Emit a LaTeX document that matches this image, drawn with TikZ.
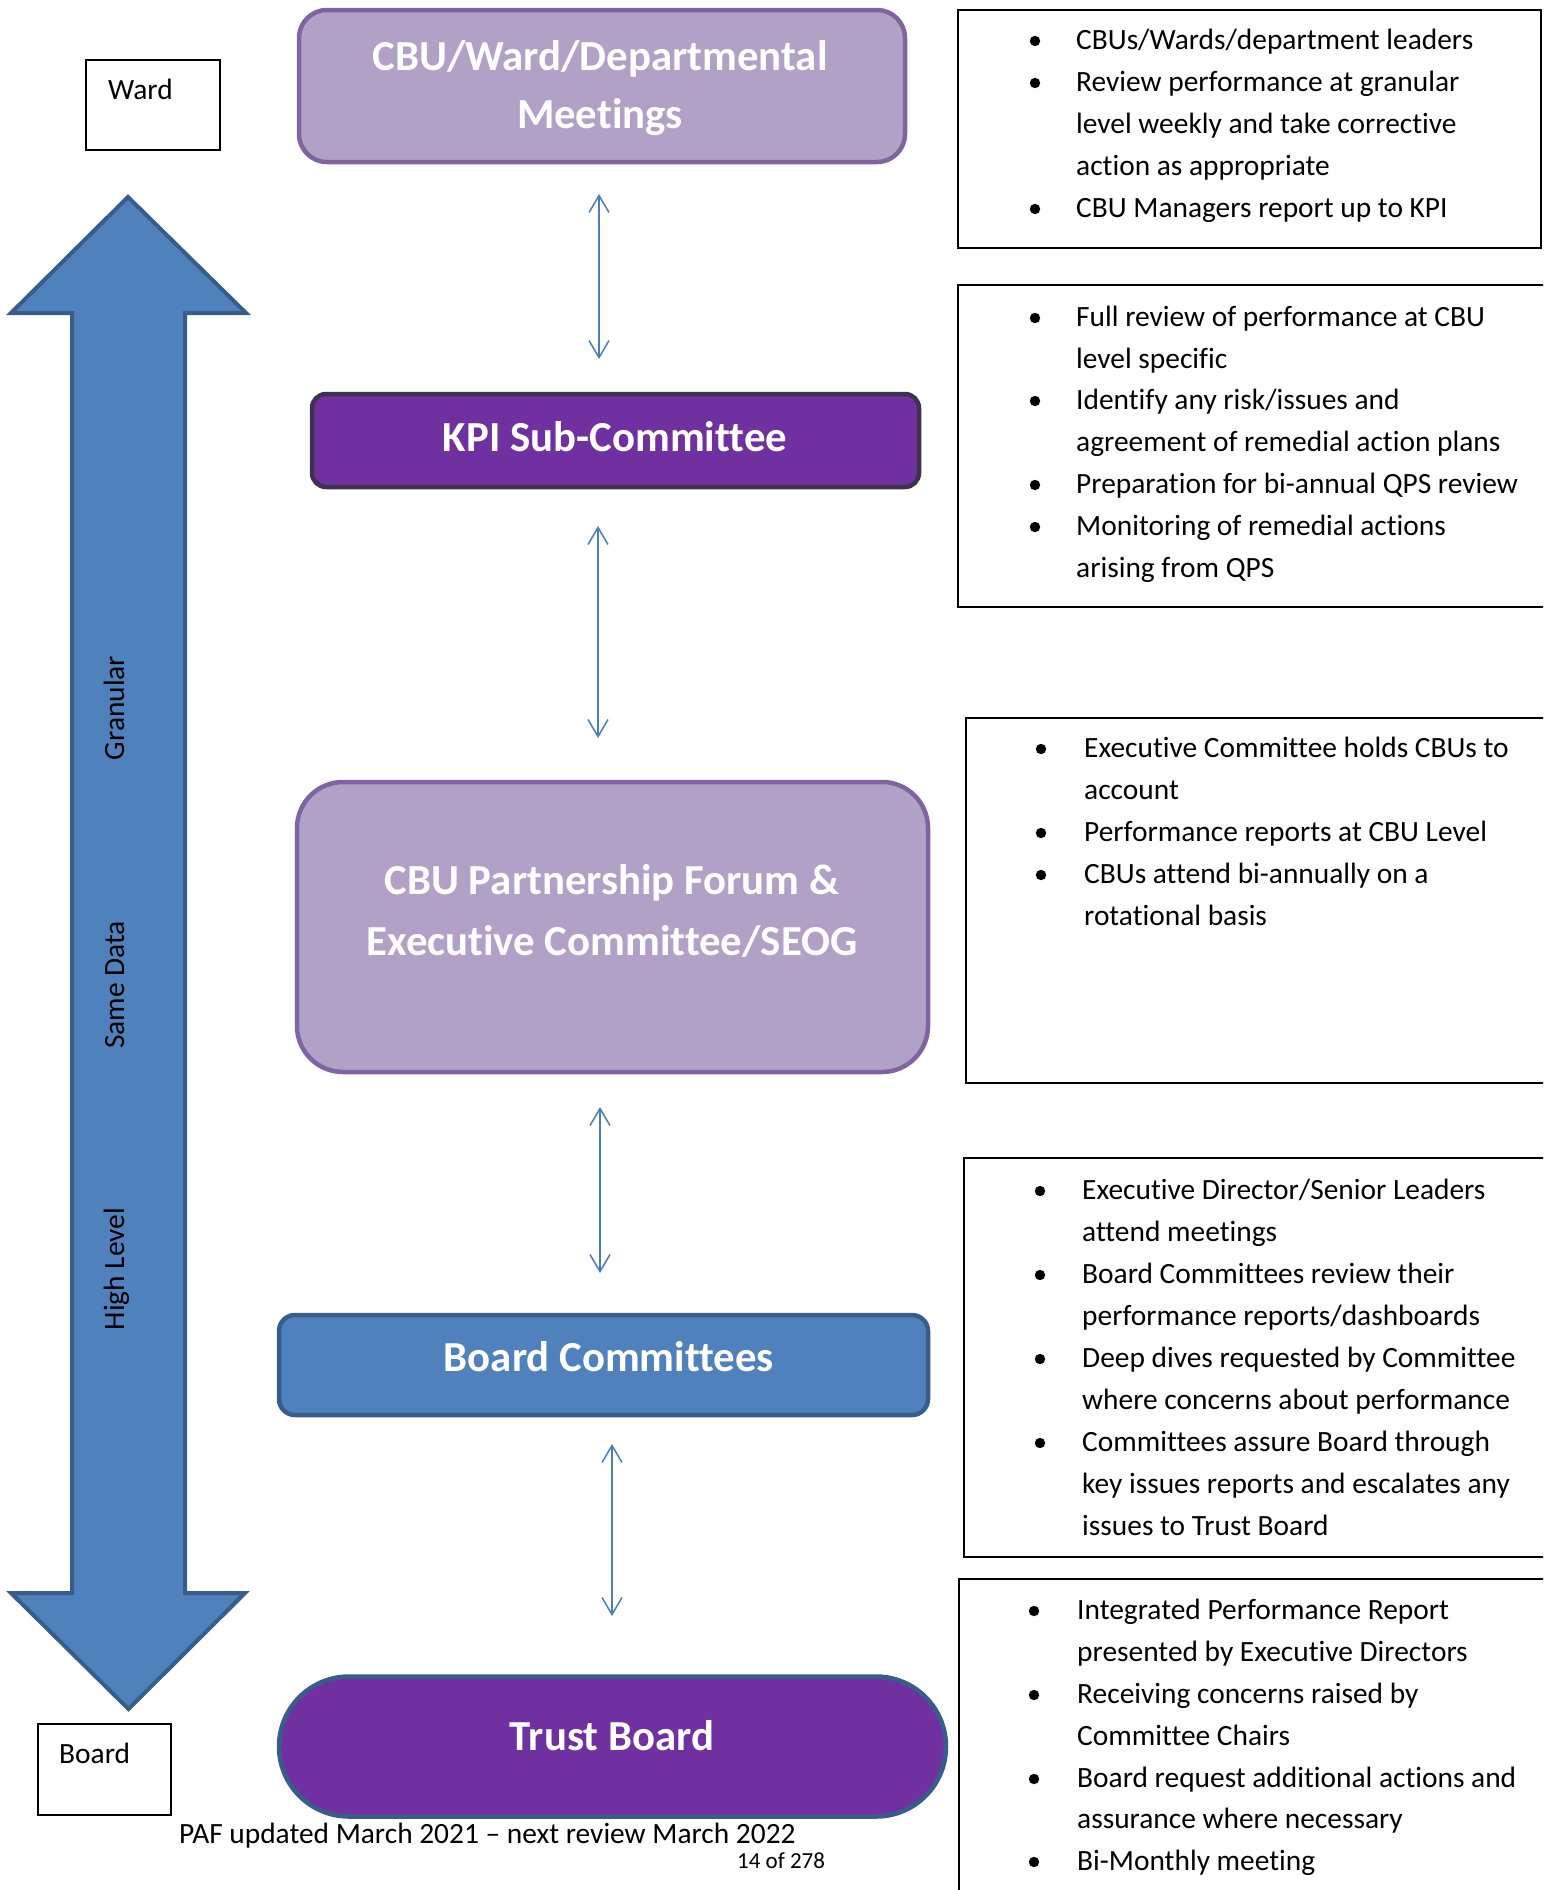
\documentclass[tikz,border=0pt]{standalone}
\usepackage{fontspec}
\setmainfont{Carlito}[Ligatures={NoCommon}]
\usetikzlibrary{arrows.meta}
\definecolor{lpurp}{HTML}{B2A1C7}
\definecolor{lpurpb}{HTML}{8064A2}
\definecolor{dpurp}{HTML}{7030A0}
\definecolor{dpurpb}{HTML}{3F3151}
\definecolor{bluef}{HTML}{4F81BD}
\definecolor{blueb}{HTML}{385D8A}
\definecolor{arrc}{HTML}{4A7EBB}
\tikzset{
  txt/.style={font=\fontsize{29.4}{35}\selectfont, anchor=base west, inner sep=0pt},
  ttl/.style={font=\fontsize{42.8}{50}\selectfont\bfseries, text=white, anchor=base, inner sep=0pt},
  lbl/.style={font=\fontsize{29.4}{35}\selectfont, anchor=base, inner sep=0pt, rotate=90},
  dbl/.style={arrc, line width=1.5pt, {Straight Barb[length=17pt,width=20pt]}-{Straight Barb[length=17pt,width=20pt]}},
  frame/.style={draw=black, line width=2pt},
}
\newcommand{\bl}[2]{\fill (#1,#2-8) circle[radius=5.2pt];}
\begin{document}
\begin{tikzpicture}[x=1pt,y=-1pt]
\useasboundingbox (0,0) rectangle (1543,1890);
\clip (0,0) rectangle (1543,1890);
\fill[white] (0,0) rectangle (1543,1890);

% big double arrow
\draw[fill=bluef, draw=blueb, line width=4pt, line join=miter]
  (128,197) -- (246,313) -- (185,313) -- (185,1593) -- (245,1593) -- (128.5,1709)
  -- (11,1593) -- (72,1593) -- (72,313) -- (11,313) -- cycle;
\node[lbl] (granular) at (124,708) {Granular};
\node[lbl] (samedata) at (124,985) {Same Data};
\node[lbl] (highlevel) at (124,1269) {High Level};

% left small boxes
\node[draw=black, line width=1.5pt, minimum width=134pt, minimum height=90pt, inner sep=0pt] (wardbox) at (153,105) {};
\node[txt] (wardtxt) at (108,99) {Ward};
\node[draw=black, line width=1.5pt, minimum width=133pt, minimum height=91pt, inner sep=0pt] (boardbox) at (104.5,1769.5) {};
\node[txt] (boardtxt) at (59,1763) {Board};

% central boxes
\node[fill=lpurp, draw=lpurpb, line width=4.5pt, rounded corners=28pt, minimum width=606pt, minimum height=152pt, inner sep=0pt] (cbu) at (602,86) {};
\node[ttl] (cbut1) at (600,70) {CBU/Ward/Departmental};
\node[ttl] (cbut2) at (600,128) {Meetings};

\node[fill=dpurp, draw=dpurpb, line width=4.5pt, rounded corners=14pt, minimum width=607pt, minimum height=93pt, inner sep=0pt] (kpi) at (615.5,440.5) {};
\node[ttl] (kpit) at (615,451) {KPI Sub-Committee};

\node[fill=lpurp, draw=lpurpb, line width=4.5pt, rounded corners=46pt, minimum width=631pt, minimum height=290pt, inner sep=0pt] (exec) at (612.5,927) {};
\node[ttl] (exect1) at (612,894) {CBU Partnership Forum \&};
\node[ttl] (exect2) at (612,955) {Executive Committee/SEOG};

\node[fill=bluef, draw=blueb, line width=4.5pt, rounded corners=16pt, minimum width=649pt, minimum height=100pt, inner sep=0pt] (bc) at (603.5,1365) {};
\node[ttl] (bct) at (609,1371) {Board Committees};

\node[fill=dpurp, draw=blueb, line width=4.5pt, rounded corners=70pt, minimum width=667pt, minimum height=140pt, inner sep=0pt] (tb) at (612.5,1746.5) {};
\node[ttl] (tbt) at (612,1750) {Trust Board};

% connectors
\coordinate (a1s) at (599,194); \coordinate (a1e) at (599,359);
\coordinate (a2s) at (598,526); \coordinate (a2e) at (598,738);
\coordinate (a3s) at (600,1107); \coordinate (a3e) at (600,1273);
\coordinate (a4s) at (612,1444); \coordinate (a4e) at (612,1616);
\draw[dbl] (a1s) -- (a1e);
\draw[dbl] (a2s) -- (a2e);
\draw[dbl] (a3s) -- (a3e);
\draw[dbl] (a4s) -- (a4e);

% right frames
\draw[frame] (958,10) rectangle (1541,248);
\draw[frame] (1550,285) -- (958,285) -- (958,607) -- (1550,607);
\draw[frame] (1550,718) -- (966,718) -- (966,1083) -- (1550,1083);
\draw[frame] (1550,1158) -- (964,1158) -- (964,1557) -- (1550,1557);
\draw[frame] (1550,1579) -- (959,1579) -- (959,1900);

% box 1
\bl{1035}{49}\node[txt] (t1a) at (1076,49) {CBUs/Wards/department leaders};
\bl{1035}{91}\node[txt] (t1b) at (1076,91) {Review performance at granular};
\node[txt] (t1c) at (1076,133) {level weekly and take corrective};
\node[txt] (t1d) at (1076,175) {action as appropriate};
\bl{1035}{217}\node[txt] (t1e) at (1076,217) {CBU Managers report up to KPI};

% box 2
\bl{1035}{326}\node[txt] (t2a) at (1076,326) {Full review of performance at CBU};
\node[txt] (t2b) at (1076,368) {level specific};
\bl{1035}{409}\node[txt] (t2c) at (1076,409) {Identify any risk/issues and};
\node[txt] (t2d) at (1076,451) {agreement of remedial action plans};
\bl{1035}{493}\node[txt] (t2e) at (1076,493) {Preparation for bi-annual QPS review};
\bl{1035}{535}\node[txt] (t2f) at (1076,535) {Monitoring of remedial actions};
\node[txt] (t2g) at (1076,577) {arising from QPS};

% box 3
\bl{1041}{757}\node[txt] (t3a) at (1084,757) {Executive Committee holds CBUs to};
\node[txt] (t3b) at (1084,799) {account};
\bl{1041}{841}\node[txt] (t3c) at (1084,841) {Performance reports at CBU Level};
\bl{1041}{883}\node[txt] (t3d) at (1084,883) {CBUs attend bi-annually on a};
\node[txt] (t3e) at (1084,925) {rotational basis};

% box 4
\bl{1040}{1199}\node[txt] (t4a) at (1082,1199) {Executive Director/Senior Leaders};
\node[txt] (t4b) at (1082,1241) {attend meetings};
\bl{1040}{1283}\node[txt] (t4c) at (1082,1283) {Board Committees review their};
\node[txt] (t4d) at (1082,1325) {performance reports/dashboards};
\bl{1040}{1367}\node[txt] (t4e) at (1082,1367) {Deep dives requested by Committee};
\node[txt] (t4f) at (1082,1409) {where concerns about performance};
\bl{1040}{1451}\node[txt] (t4g) at (1082,1451) {Committees assure Board through};
\node[txt] (t4h) at (1082,1493) {key issues reports and escalates any};
\node[txt] (t4i) at (1082,1535) {issues to Trust Board};

% box 5
\bl{1034}{1619}\node[txt] (t5a) at (1077,1619) {Integrated Performance Report};
\node[txt] (t5b) at (1077,1661) {presented by Executive Directors};
\bl{1034}{1703}\node[txt] (t5c) at (1077,1703) {Receiving concerns raised by};
\node[txt] (t5d) at (1077,1745) {Committee Chairs};
\bl{1034}{1787}\node[txt] (t5e) at (1077,1787) {Board request additional actions and};
\node[txt] (t5f) at (1077,1828) {assurance where necessary};
\bl{1034}{1870}\node[txt] (t5g) at (1077,1870) {Bi-Monthly meeting};

% footer
\node[txt] (foot) at (179,1843) {PAF updated March 2021 – next review March 2022};
\node[txt, font=\fontsize{23}{28}\selectfont] (page) at (737,1868) {14 of 278};
\end{tikzpicture}
\end{document}
